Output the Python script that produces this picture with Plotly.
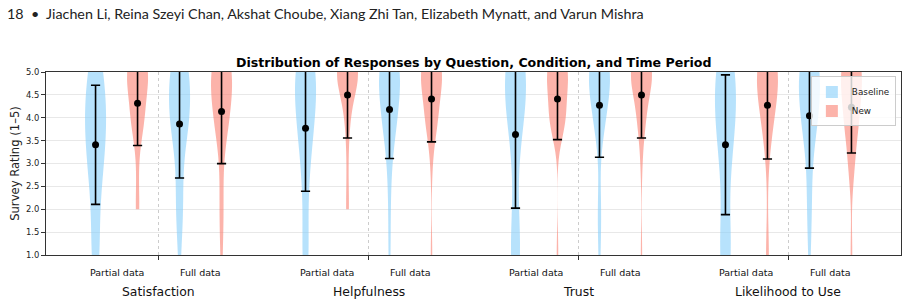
import numpy as np
import plotly.graph_objects as go

# ---------------- data ----------------
questions = ["Satisfaction", "Helpfulness", "Trust", "Likelihood to Use"]
periods = ["Partial data", "Full data"]
conditions = ["Baseline", "New"]
ratings = [1, 2, 3, 4, 5]

# response counts for ratings 1..5, order: (Partial, Baseline), (Partial, New), (Full, Baseline), (Full, New)
satisfaction_counts = [[3, 2, 5, 7, 5], [0, 2, 1, 7, 12], [1, 3, 2, 8, 8], [1, 2, 1, 7, 11]]
helpfulness_counts = [[3, 1, 3, 6, 9], [0, 2, 1, 3, 16], [1, 1, 2, 7, 11], [1, 0, 1, 7, 13]]
trust_counts = [[5, 1, 1, 5, 10], [1, 0, 0, 9, 12], [1, 2, 0, 6, 13], [1, 0, 1, 5, 15]]
likelihood_counts = [[5, 1, 3, 6, 7], [2, 0, 1, 6, 13], [1, 2, 2, 7, 10], [1, 0, 3, 7, 11]]

all_counts = [satisfaction_counts, helpfulness_counts, trust_counts, likelihood_counts]

yticks = [1.0, 1.5, 2.0, 2.5, 3.0, 3.5, 4.0, 4.5, 5.0]

# ---------------- styling ----------------
fill = {"Baseline": "rgba(135,206,250,0.6)", "New": "rgba(250,128,114,0.6)"}
FONT = "DejaVu Sans"
group_gap = 5.0
offsets = {("Partial data", "Baseline"): -1.5, ("Partial data", "New"): -0.5,
           ("Full data", "Baseline"): 0.5, ("Full data", "New"): 1.5}

fig = go.Figure()
mx, my, ms = [], [], []
shown = set()
for g, q in enumerate(questions):
    k = 0
    for p in periods:
        for c in conditions:
            counts = all_counts[g][k]
            k += 1
            vals = np.repeat(ratings, counts).astype(float)
            pos = g * group_gap + offsets[(p, c)]
            n = len(vals)
            bw = n ** (-0.2) * np.std(vals, ddof=1)
            fig.add_trace(go.Violin(
                x=[pos] * n, y=vals, orientation="v", width=0.5, bandwidth=bw,
                spanmode="hard", points=False, fillcolor=fill[c],
                line=dict(width=0, color="rgba(0,0,0,0)"), scalemode="width",
                name=c, legendgroup=c, showlegend=c not in shown, hoverinfo="skip",
            ))
            shown.add(c)
            mx.append(pos)
            my.append(vals.mean())
            ms.append(vals.std())

fig.add_trace(go.Scatter(
    x=mx, y=my, mode="markers", showlegend=False, hoverinfo="skip",
    marker=dict(color="black", size=7),
    error_y=dict(type="data", array=ms, color="black", thickness=1.6, width=4.6),
))

annotations = []
for g, q in enumerate(questions):
    for i, p in enumerate(periods):
        annotations.append(dict(x=g * group_gap + (-1 if i == 0 else 1), y=0, xref="x", yref="paper",
                                yshift=-17.5, yanchor="middle", showarrow=False, text=p,
                                font=dict(family=FONT, size=9.5, color="#111")))
    annotations.append(dict(x=g * group_gap, y=0, xref="x", yref="paper", yshift=-36,
                            yanchor="middle", showarrow=False, text=q,
                            font=dict(family=FONT, size=12.4, color="#111")))
annotations.append(dict(x=0.5, y=1, xref="paper", yref="paper", yshift=10, yanchor="middle",
                        showarrow=False,
                        text="<b>Distribution of Responses by Question, Condition, and Time Period</b>",
                        font=dict(family=FONT, size=12.6, color="black")))
annotations.append(dict(x=-41 / 855, y=1, xref="paper", yref="paper", xanchor="left",
                        yanchor="middle", yshift=59, showarrow=False,
                        text="18  \u2022  Jiachen Li, Reina Szeyi Chan, Akshat Choube, Xiang Zhi Tan, Elizabeth Mynatt, and Varun Mishra",
                        font=dict(family="Lato", size=14.3, color="#222")))

fig.update_layout(
    width=907, height=305, autosize=False,
    margin=dict(l=46, r=6, t=72, b=50, pad=0),
    paper_bgcolor="white", plot_bgcolor="white",
    violinmode="overlay",
    font=dict(family=FONT, color="#222"),
    annotations=annotations,
    legend=dict(x=0.994, y=0.976, xanchor="right", yanchor="top",
                bgcolor="rgba(255,255,255,0.8)", bordercolor="#cccccc", borderwidth=1,
                font=dict(family=FONT, size=8.8, color="#222"), itemwidth=30,
                tracegroupgap=0),
)
fig.update_xaxes(range=[-2.68, 17.68], tickvals=[g * group_gap for g in range(len(questions))],
                 showticklabels=False, ticks="outside", ticklen=4, tickcolor="#333",
                 showgrid=True, gridcolor="#cccccc", griddash="dot", gridwidth=1,
                 showline=True, mirror=True, linecolor="#333", linewidth=1, zeroline=False)
fig.update_yaxes(range=[1, 5], tickvals=yticks, ticktext=[f"{v:.1f}" for v in yticks],
                 ticks="outside", ticklen=4, tickcolor="#333",
                 tickfont=dict(family=FONT, size=8.4, color="#222"),
                 showgrid=True, gridcolor="#e8e8e8", gridwidth=1,
                 showline=True, mirror=True, linecolor="#333", linewidth=1, zeroline=False,
                 title=dict(text="Survey Rating (1\u20135)", font=dict(family=FONT, size=11.6, color="#222"),
                            standoff=3))

fig.write_html("out.html")
